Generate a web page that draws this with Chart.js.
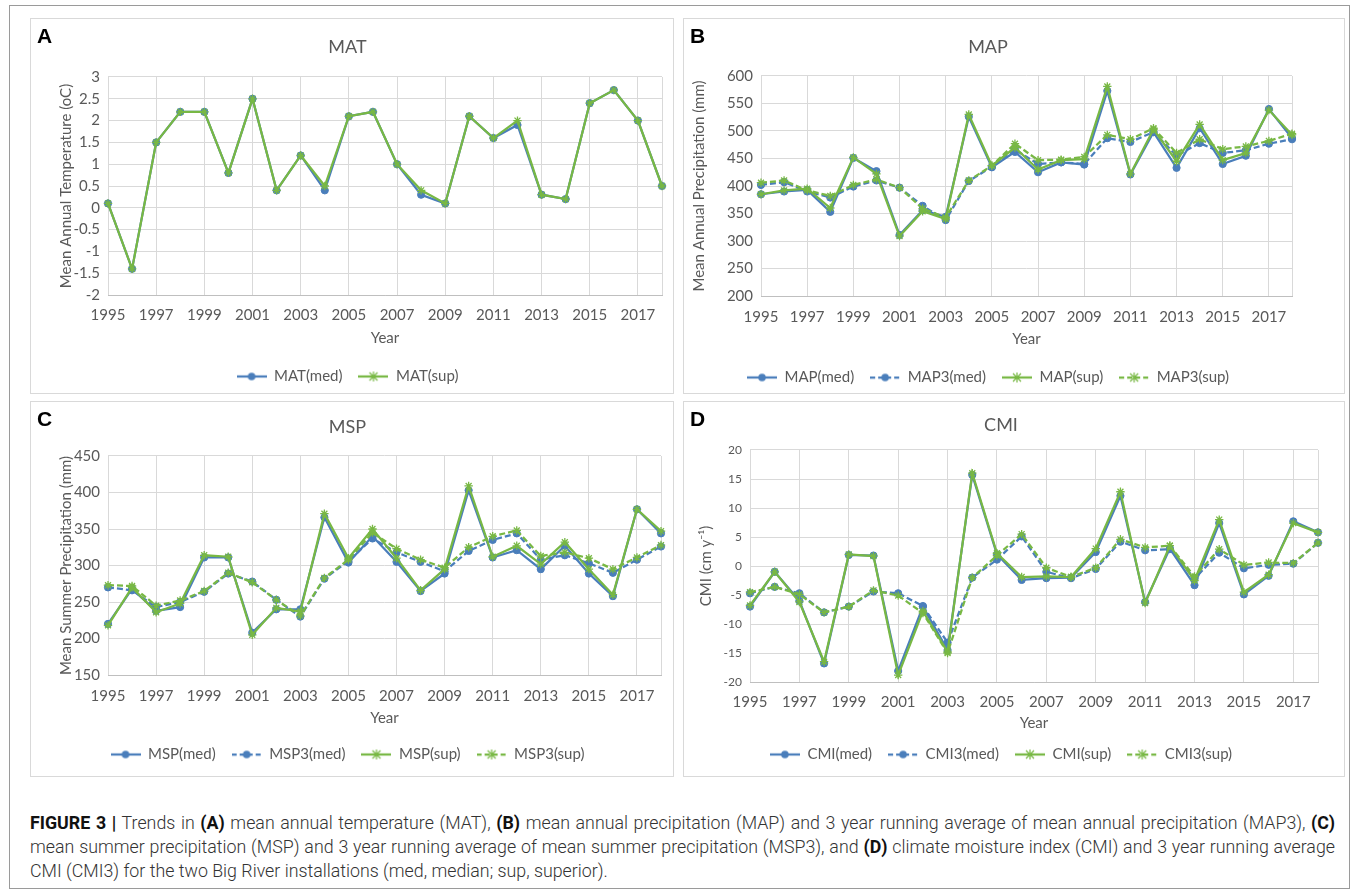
<!DOCTYPE html>
<html>
<head>
<meta charset="utf-8">
<script src="https://cdn.jsdelivr.net/npm/chart.js@4.4.1/dist/chart.umd.min.js"></script>
<style>
  html, body { margin: 0; padding: 0; background: #fff; }
  body { width: 1357px; height: 895px; position: relative; overflow: hidden; }
  .frame { position: absolute; left: 9px; top: 5px; width: 1339px; height: 882px; border: 1px solid #9a9a9a; }
  .panel { position: absolute; border: 1px solid #d9d9d9; }
  .panel canvas { position: absolute; left: 0; top: 0; }
  .letter { position: absolute; left: 6px; top: 5px; font: bold 21px Arial, "Liberation Sans", sans-serif; color: #000; z-index: 2; }
  .caption { position: absolute; left: 30px; top: 811px; color: #333; transform-origin: 0 0;
    font-family: Roboto, "Liberation Sans", sans-serif; font-weight: 300; font-size: 19px; line-height: 24px; }
  .caption div { white-space: nowrap; }
  .caption b { color: #111; font-weight: 700; }
  .caption .j { text-align: justify; text-align-last: justify; }
</style>
</head>
<body>
<div class="frame"></div>
<div class="panel" id="pA"><div class="letter">A</div><canvas id="cA"></canvas></div>
<div class="panel" id="pB"><div class="letter">B</div><canvas id="cB"></canvas></div>
<div class="panel" id="pC"><div class="letter">C</div><canvas id="cC"></canvas></div>
<div class="panel" id="pD"><div class="letter">D</div><canvas id="cD"></canvas></div>
<div class="caption" id="caption">
  <div><span><b>FIGURE 3 |</b> Trends in <b>(A)</b> mean annual temperature (MAT), <b>(B)</b> mean annual precipitation (MAP) and 3 year running average of mean annual precipitation (MAP3), <b>(C)</b></span></div>
  <div><span>mean summer precipitation (MSP) and 3 year running average of mean summer precipitation (MSP3), and <b>(D)</b> climate moisture index (CMI) and 3 year running average</span></div>
  <div><span>CMI (CMI3) for the two Big River installations (med, median; sup, superior).</span></div>
</div>
<script>
// data
const years = ['1995','1996','1997','1998','1999','2000','2001','2002','2003','2004','2005','2006',
               '2007','2008','2009','2010','2011','2012','2013','2014','2015','2016','2017','2018'];

const matMed = [0.1, -1.4, 1.5, 2.2, 2.2, 0.8, 2.5, 0.4, 1.2, 0.4, 2.1, 2.2, 1.0, 0.3, 0.1, 2.1, 1.6, 1.9, 0.3, 0.2, 2.4, 2.7, 2.0, 0.5];
const matSup = [0.1, -1.4, 1.5, 2.2, 2.2, 0.8, 2.5, 0.4, 1.2, 0.5, 2.1, 2.2, 1.0, 0.4, 0.1, 2.1, 1.6, 2.0, 0.3, 0.2, 2.4, 2.7, 2.0, 0.5];

const mapMed  = [385, 390, 393, 353, 451, 427, 311, 356, 344, 526, 434, 462, 425, 443, 439, 573, 421, 498, 433, 505, 440, 455, 540, 487];
const map3Med = [402, 407, 390, 379, 399, 410, 397, 364, 338, 409, 435, 466, 440, 443, 440, 487, 480, 498, 455, 478, 460, 465, 477, 485];
const mapSup  = [385, 392, 395, 360, 452, 422, 309, 354, 340, 530, 437, 470, 430, 447, 449, 581, 422, 503, 445, 512, 447, 460, 538, 493];
const map3Sup = [406, 410, 392, 382, 402, 412, 397, 359, 343, 410, 437, 477, 447, 448, 453, 493, 485, 505, 460, 485, 467, 472, 482, 495];

const mspMed  = [220, 268, 238, 243, 311, 311, 208, 240, 240, 366, 304, 340, 305, 265, 289, 403, 311, 321, 295, 327, 289, 258, 377, 344];
const msp3Med = [270, 266, 243, 250, 264, 289, 278, 253, 230, 282, 306, 337, 318, 305, 292, 320, 335, 344, 308, 314, 303, 290, 308, 326];
const mspSup  = [218, 270, 236, 248, 314, 312, 205, 242, 237, 371, 310, 350, 310, 266, 295, 409, 312, 327, 302, 332, 295, 260, 377, 347];
const msp3Sup = [273, 272, 245, 252, 265, 290, 277, 253, 231, 283, 308, 345, 323, 308, 297, 325, 340, 348, 313, 318, 310, 295, 311, 328];

const cmiMed  = [-7.0, -1.0, -6.0, -16.8, 1.9, 1.8, -18.1, -7.0, -14.5, 15.7, 2.0, -2.4, -2.1, -2.0, 2.4, 12.1, -6.2, 3.0, -3.3, 7.4, -4.9, -1.7, 7.7, 5.8];
const cmi3Med = [-4.7, -3.6, -4.7, -8.0, -7.0, -4.4, -4.7, -6.9, -13.2, -2.0, 1.1, 5.1, -1.0, -2.1, -0.5, 4.2, 2.7, 2.9, -2.2, 2.3, -0.4, 0.2, 0.4, 4.0];
const cmiSup  = [-6.8, -1.0, -6.2, -16.5, 2.0, 1.7, -18.8, -7.8, -14.8, 16.0, 2.2, -1.9, -1.8, -1.9, 3.0, 12.8, -6.4, 3.5, -2.5, 8.0, -4.5, -1.5, 7.4, 5.8];
const cmi3Sup = [-4.5, -3.6, -4.9, -8.0, -7.0, -4.2, -5.1, -8.1, -15.0, -2.0, 1.8, 5.5, -0.3, -1.9, -0.3, 4.6, 3.2, 3.5, -1.8, 2.9, 0.2, 0.6, 0.5, 4.0];

const BLUE = '#4a7ebb';
const GREEN = '#78b844';
const GRID = '#d9d9d9';
const TXT = '#595959';
const FONT = 'Lato, "Open Sans", sans-serif';

// caption: squeeze the text a little so the full lines fit the figure width, then justify
(function fitCaption() {
  const cap = document.getElementById('caption');
  const lines = cap.querySelectorAll('div');
  const full = 1305;
  const widest = Math.max(lines[0].firstChild.offsetWidth, lines[1].firstChild.offsetWidth);
  const s = Math.min(1, (full - 12) / widest);
  cap.style.width = (full / s) + 'px';
  cap.style.transform = 'scaleX(' + s + ')';
  lines[0].className = 'j';
  lines[1].className = 'j';
})();

// little line+marker picture used as legend symbol (Excel style)
function legendIcon(color, dashed, star) {
  const c = document.createElement('canvas');
  c.width = 30; c.height = 12;
  const g = c.getContext('2d');
  g.strokeStyle = color; g.fillStyle = color; g.lineWidth = 2.25;
  if (dashed) g.setLineDash([5, 3]);
  g.beginPath(); g.moveTo(0, 6); g.lineTo(30, 6); g.stroke();
  g.setLineDash([]);
  if (star) {
    g.lineWidth = 1.2;
    g.beginPath();
    g.moveTo(11, 2); g.lineTo(19, 10);
    g.moveTo(19, 2); g.lineTo(11, 10);
    g.moveTo(15, 1); g.lineTo(15, 11);
    g.stroke();
  } else {
    g.beginPath(); g.arc(15, 6, 3.8, 0, Math.PI * 2); g.fill();
  }
  return c;
}

function series(label, data, color, dashed, star, order) {
  return {
    label, data, order,
    borderColor: color, backgroundColor: color,
    borderWidth: 2.25,
    borderDash: dashed ? [6, 3] : [],
    pointStyle: star ? 'star' : 'circle',
    pointRadius: star ? 4.2 : 3.6,
    pointBorderWidth: star ? 1.3 : 1,
    pointBackgroundColor: color, pointBorderColor: color,
    tension: 0, fill: false,
    icon: legendIcon(color, dashed, star)
  };
}

// p = panel box, t = target page positions of the pieces
function makePanel(id, p, t, title, yTitle, yMin, yMax, yStep, yFont, datasets) {
  const box = document.getElementById('p' + id);
  Object.assign(box.style, { left: p.l + 'px', top: p.t + 'px', width: (p.w - 2) + 'px', height: (p.h - 2) + 'px' });
  const cL = p.l + 1, cT = p.t + 1, cW = p.w - 2;
  const cH = Math.round(t.legendY + 17 - cT);
  const canvas = document.getElementById('c' + id);
  canvas.width = cW; canvas.height = cH;
  canvas.style.width = cW + 'px'; canvas.style.height = cH + 'px';

  const lp = 16, ih = 15;
  const legendTop = cH - (ih + lp + 10);
  const xH = legendTop - (t.plotB - cT);
  const t1 = t.titleY - cT - 10.8;
  const t2 = t.plotT - cT - t1 - 21.6;

  new Chart(canvas, {
    type: 'line',
    data: { labels: years, datasets },
    options: {
      responsive: false,
      animation: false,
      layout: { padding: { left: 0, right: cL + cW - t.plotR, top: 0, bottom: 0 } },
      plugins: {
        title: { display: true, text: title, color: TXT, font: { size: 18, family: FONT, weight: 'normal' }, padding: { top: t1, bottom: t2 } },
        legend: {
          position: 'bottom',
          labels: {
            usePointStyle: true, pointStyleWidth: 30, padding: lp, color: TXT,
            font: { size: 15, family: FONT },
            generateLabels: chart => chart.data.datasets.map((ds, i) => ({
              text: ds.label, datasetIndex: i, pointStyle: ds.icon, hidden: false,
              fillStyle: ds.borderColor, strokeStyle: ds.borderColor, lineWidth: 0, fontColor: TXT
            }))
          }
        },
        tooltip: { enabled: false }
      },
      scales: {
        x: {
          type: 'category', offset: false,
          grid: { color: c => (c.index % 2 === 0 || c.index === years.length - 1) ? GRID : 'rgba(0,0,0,0)', drawTicks: false },
          border: { color: '#bfbfbf' },
          ticks: { autoSkip: false, maxRotation: 0, padding: t.labelsY - t.plotB - 9, color: TXT,
                   font: { size: 15, family: FONT }, callback: (v, i) => i % 2 === 0 ? years[i] : '' },
          title: { display: true, text: 'Year', color: TXT, font: { size: 15, family: FONT },
                   padding: { top: 0, bottom: (cT + legendTop) - 9 - t.yearY } },
          afterFit: s => { s.height = xH; }
        },
        y: {
          min: yMin, max: yMax,
          ticks: { stepSize: yStep, padding: 8, color: TXT, font: { size: yFont, family: FONT },
                   callback: v => String(Number(v.toFixed(2))) },
          grid: { color: GRID, drawTicks: false },
          border: { display: false },
          title: { display: true, text: yTitle, color: TXT, font: { size: 15, family: FONT },
                   padding: { top: t.yTitleX - cL - 9, bottom: 0 } },
          afterFit: s => { s.width = t.plotL - cL; }
        }
      }
    }
  });
}

makePanel('A', { l: 30, t: 18, w: 644, h: 376 },
  { plotL: 108, plotR: 664, plotT: 77, plotB: 295, titleY: 47, labelsY: 315, yearY: 338, legendY: 377, yTitleX: 66 },
  'MAT', 'Mean Annual Temperature (oC)', -2, 3, 0.5, 15,
  [series('MAT(med)', matMed, BLUE, false, false, 2),
   series('MAT(sup)', matSup, GREEN, false, true, 1)]);

makePanel('B', { l: 683, t: 18, w: 662, h: 376 },
  { plotL: 761, plotR: 1292, plotT: 76, plotB: 296, titleY: 47, labelsY: 317, yearY: 339, legendY: 378, yTitleX: 699 },
  'MAP', 'Mean Annual Precipitation (mm)', 200, 600, 50, 15,
  [series('MAP(med)', mapMed, BLUE, false, false, 4),
   series('MAP3(med)', map3Med, BLUE, true, false, 3),
   series('MAP(sup)', mapSup, GREEN, false, true, 2),
   series('MAP3(sup)', map3Sup, GREEN, true, true, 1)]);

makePanel('C', { l: 30, t: 401, w: 644, h: 376 },
  { plotL: 108, plotR: 664, plotT: 456, plotB: 675, titleY: 427, labelsY: 696, yearY: 718, legendY: 755, yTitleX: 66 },
  'MSP', 'Mean Summer Precipitation (mm)', 150, 450, 50, 15,
  [series('MSP(med)', mspMed, BLUE, false, false, 4),
   series('MSP3(med)', msp3Med, BLUE, true, false, 3),
   series('MSP(sup)', mspSup, GREEN, false, true, 2),
   series('MSP3(sup)', msp3Sup, GREEN, true, true, 1)]);

makePanel('D', { l: 683, t: 401, w: 662, h: 376 },
  { plotL: 750, plotR: 1318, plotT: 450, plotB: 682, titleY: 425, labelsY: 702, yearY: 723, legendY: 755, yTitleX: 706 },
  'CMI', 'CMI (cm y\u207B\u00B9)', -20, 20, 5, 12,
  [series('CMI(med)', cmiMed, BLUE, false, false, 4),
   series('CMI3(med)', cmi3Med, BLUE, true, false, 3),
   series('CMI(sup)', cmiSup, GREEN, false, true, 2),
   series('CMI3(sup)', cmi3Sup, GREEN, true, true, 1)]);
</script>
</body>
</html>
